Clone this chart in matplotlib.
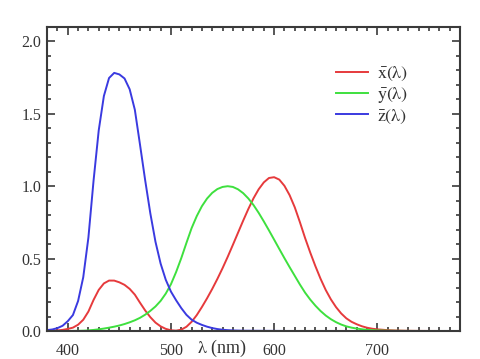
import numpy as np
import matplotlib
matplotlib.use("Agg")
import matplotlib.pyplot as plt
from matplotlib.ticker import MultipleLocator

plt.rcParams['font.family'] = ['Liberation Serif', 'DejaVu Serif']
plt.rcParams['mathtext.fontset'] = 'stix'

wl = list(range(380, 705, 5)) + list(range(710, 790, 10))

xbar = [0.001368, 0.002236, 0.004243, 0.007650, 0.014310, 0.023190, 0.043510, 0.077630,
        0.134380, 0.214770, 0.283900, 0.328500, 0.348280, 0.348060, 0.336200, 0.318700,
        0.290800, 0.251100, 0.195360, 0.142100, 0.095640, 0.057950, 0.032010, 0.014700,
        0.004900, 0.002400, 0.009300, 0.029100, 0.063270, 0.109600, 0.165500, 0.225750,
        0.290400, 0.359700, 0.433450, 0.512050, 0.594500, 0.678400, 0.762100, 0.842500,
        0.916300, 0.978600, 1.026300, 1.056700, 1.062200, 1.045600, 1.002600, 0.938400,
        0.854450, 0.751400, 0.642400, 0.541900, 0.447900, 0.360800, 0.283500, 0.218700,
        0.164900, 0.121200, 0.087400, 0.063600, 0.046770, 0.032900, 0.022700, 0.015840,
        0.011359,
        0.005790, 0.002899, 0.001440, 0.000690, 0.000332, 0.000166, 0.000083, 0.000042]

ybar = [0.000039, 0.000064, 0.000120, 0.000217, 0.000396, 0.000640, 0.001210, 0.002180,
        0.004000, 0.007300, 0.011600, 0.016840, 0.023000, 0.029800, 0.038000, 0.048000,
        0.060000, 0.073900, 0.090980, 0.112600, 0.139020, 0.169300, 0.208020, 0.258600,
        0.323000, 0.407300, 0.503000, 0.608200, 0.710000, 0.793200, 0.862000, 0.914850,
        0.954000, 0.980300, 0.994950, 1.000000, 0.995000, 0.978600, 0.952000, 0.915400,
        0.870000, 0.816300, 0.757000, 0.694900, 0.631000, 0.566800, 0.503000, 0.441200,
        0.381000, 0.321000, 0.265000, 0.217000, 0.175000, 0.138200, 0.107000, 0.081600,
        0.061000, 0.044580, 0.032000, 0.023200, 0.017000, 0.011920, 0.008210, 0.005723,
        0.004102,
        0.002091, 0.001047, 0.000520, 0.000249, 0.000120, 0.000060, 0.000030, 0.000015]

zbar = [0.006450, 0.010550, 0.020050, 0.036210, 0.067850, 0.110200, 0.207400, 0.371300,
        0.645600, 1.039050, 1.385600, 1.622960, 1.747060, 1.782600, 1.772110, 1.744100,
        1.669200, 1.528100, 1.287640, 1.041900, 0.812950, 0.616200, 0.465180, 0.353300,
        0.272000, 0.212300, 0.158200, 0.111700, 0.078250, 0.057250, 0.042160, 0.029840,
        0.020300, 0.013400, 0.008750, 0.005750, 0.003900, 0.002750, 0.002100, 0.001800,
        0.001650, 0.001400, 0.001100, 0.001000, 0.000800, 0.000600, 0.000340, 0.000240,
        0.000190, 0.000100, 0.000050, 0.000030, 0.000020, 0.000010, 0.0, 0.0,
        0.0, 0.0, 0.0, 0.0, 0.0, 0.0, 0.0, 0.0,
        0.0,
        0.0, 0.0, 0.0, 0.0, 0.0, 0.0, 0.0, 0.0]

labels = [r'$\bar{\mathrm{x}}\mathrm{(\lambda)}$', r'$\bar{\mathrm{y}}\mathrm{(\lambda)}$',
          r'$\bar{\mathrm{z}}\mathrm{(\lambda)}$']
colors = ['#e63a3c', '#3ee03e', '#3a3ae0']

fig = plt.figure(figsize=(4.81, 3.59), dpi=100)
ax = fig.add_axes([0.098, 0.078, 0.858, 0.847])

for data, lab, c in zip([xbar, ybar, zbar], labels, colors):
    ax.plot(wl, data, color=c, lw=1.4, label=lab, clip_on=False)

ax.set_xlim(380, 780)
ax.set_ylim(0, 2.1)
ax.xaxis.set_minor_locator(MultipleLocator(10))
ax.yaxis.set_minor_locator(MultipleLocator(0.1))
ax.set_xticks([400, 500, 600, 700])
ax.set_xticklabels(['400', '500', '600', '700'])
ax.set_yticks([0, 0.5, 1.0, 1.5, 2.0])
ax.set_yticklabels(['0.0', '0.5', '1.0', '1.5', '2.0'])

for s in ax.spines.values():
    s.set_color('#3a3a3a')
    s.set_linewidth(1.5)
ax.tick_params(which='both', direction='in', top=True, right=True, colors='#3a3a3a',
               labelcolor='#333333', labelsize=11.5, width=1.2)
ax.tick_params(axis='x', which='major', length=6, pad=9)
ax.tick_params(axis='y', which='major', length=6, pad=4)
ax.tick_params(which='minor', length=3)

ax.text(549, -0.057, r'$\mathrm{\lambda}$ (nm)', transform=ax.get_xaxis_transform(),
        ha='center', va='center', fontsize=13, color='#333333')

leg = ax.legend(loc='upper right', bbox_to_anchor=(0.875, 0.875), frameon=False,
                fontsize=13, handlelength=1.8, labelspacing=0.12, handletextpad=0.5,
                borderaxespad=0, borderpad=0)
for t in leg.get_texts():
    t.set_color('#333333')

fig.savefig('out.png', dpi=100)
